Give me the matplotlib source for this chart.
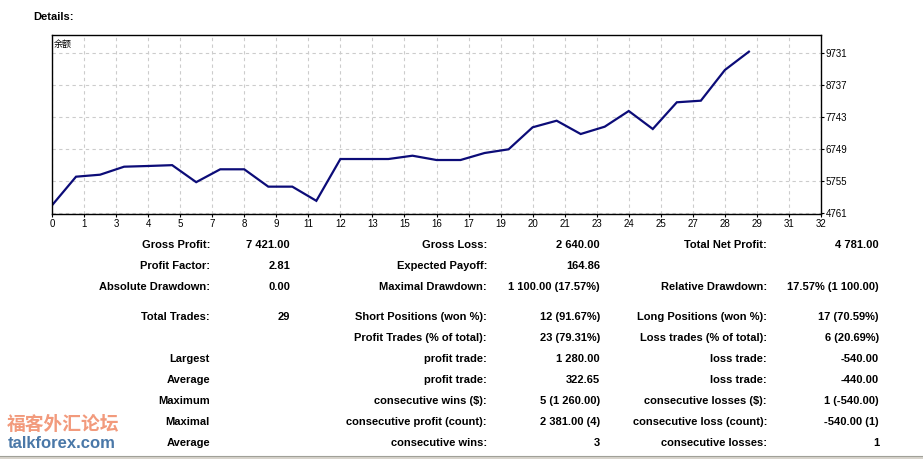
import matplotlib
matplotlib.use("Agg")
import matplotlib.pyplot as plt
import numpy as np

W, H = 923, 459

# balance after each trade (0 = starting deposit)
balance = [5000, 5891, 5953, 6202, 6224, 6250, 5721, 6121, 6121, 5581,
           5581, 5140, 6441, 6441, 6441, 6544, 6410, 6410, 6628, 6743,
           7428, 7633, 7219, 7447, 7935, 7375, 8206, 8256, 9211, 9781]
x_tick_labels = ["0", "1", "3", "4", "5", "7", "8", "9", "11", "12", "13", "15", "16",
                 "17", "19", "20", "21", "23", "24", "25", "27", "28", "29", "31", "32"]
y_ticks = [4761, 5755, 6749, 7743, 8737, 9731]

col1_labels = ["Gross Profit:", "Profit Factor:", "Absolute Drawdown:", "Total Trades:", "",
               "Largest", "Average", "Maximum", "Maximal", "Average"]
col1_values = ["7 421.00", "2.81", "0.00", "29", "", "", "", "", "", ""]
col2_labels = ["Gross Loss:", "Expected Payoff:", "Maximal Drawdown:", "Short Positions (won %):",
               "Profit Trades (% of total):", "profit trade:", "profit trade:",
               "consecutive wins ($):", "consecutive profit (count):", "consecutive wins:"]
col2_values = ["2 640.00", "164.86", "1 100.00 (17.57%)", "12 (91.67%)", "23 (79.31%)",
               "1 280.00", "322.65", "5 (1 260.00)", "2 381.00 (4)", "3"]
col3_labels = ["Total Net Profit:", "", "Relative Drawdown:", "Long Positions (won %):",
               "Loss trades (% of total):", "loss trade:", "loss trade:",
               "consecutive losses ($):", "consecutive loss (count):", "consecutive losses:"]
col3_values = ["4 781.00", "", "17.57% (1 100.00)", "17 (70.59%)", "6 (20.69%)",
               "-540.00", "-440.00", "1 (-540.00)", "-540.00 (1)", "1"]

ROW_Y = [245, 266, 287, 317, 338, 359, 380, 401, 422, 443]
COL_RIGHT = [210, 290, 487, 600, 767, 879]
FONT = "Liberation Sans"


def fx(px):
    return px / W


def fy(py):
    return 1 - py / H


fig = plt.figure(figsize=(W / 100, H / 100), dpi=100)
fig.patch.set_facecolor("white")

fig.text(fx(33), fy(17), "Details:", ha="left", va="center", fontsize=8,
         fontweight="bold", family=FONT)

ax = fig.add_axes([fx(52), fy(214), fx(821 - 52), (214 - 35) / H])
x = np.arange(len(balance))
ax.plot(x, balance, color="#0c0c78", linewidth=1.6, solid_joinstyle="miter")
ax.set_xlim(0, 32)
ax.set_ylim(4730, 10300)
ax.set_xticks(np.linspace(0, 32, len(x_tick_labels)))
ax.set_xticklabels(x_tick_labels)
ax.set_yticks(y_ticks)
ax.set_yticklabels([str(v) for v in y_ticks])
ax.yaxis.tick_right()
ax.tick_params(axis="both", direction="out", length=2, width=0.8, pad=1.5,
               labelsize=7, colors="black")
for lab in ax.get_xticklabels() + ax.get_yticklabels():
    lab.set_family(FONT)
ax.grid(True, color="#cccccc", linestyle=(0, (3, 3)), linewidth=0.8)
for sp in ax.spines.values():
    sp.set_color("black")
    sp.set_linewidth(1.0)

fig.text(fx(54), fy(44), "余额", ha="left", va="center", fontsize=6.5,
         family=["Noto Sans CJK SC", "DejaVu Sans"])

# statistics table
cols = [col1_labels, col1_values, col2_labels, col2_values, col3_labels, col3_values]
for c, items in enumerate(cols):
    for r, txt in enumerate(items):
        if txt:
            fig.text(fx(COL_RIGHT[c]), fy(ROW_Y[r]), txt, ha="right", va="center",
                     fontsize=8, fontweight="bold", family=FONT, color="black")

# watermark
fig.text(fx(7), fy(424), "福客外汇论坛", ha="left", va="center", fontsize=13.5,
         fontweight="bold", color="#f29a7c", family=["Noto Sans CJK SC", "DejaVu Sans"])
fig.text(fx(8), fy(443), "talkforex.com", ha="left", va="center", fontsize=12,
         fontweight="bold", color="#4a78a8", family=FONT)

# window frame at the bottom
fig.add_artist(plt.Line2D([0, 1], [fy(455.5), fy(455.5)], color="#a0a098", linewidth=0.8))
fig.add_artist(plt.Rectangle((0, 0), 1, fy(456), color="#d8d4cc", linewidth=0))

fig.savefig("out.png", dpi=100)
